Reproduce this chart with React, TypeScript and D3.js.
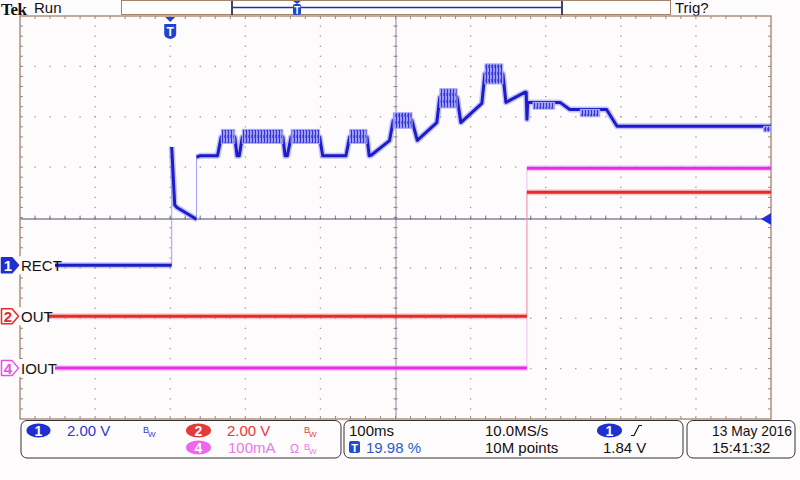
import React from 'react'
import * as d3 from 'd3'

// time in ms relative to trigger, 100ms/div, 10 divisions
const TIME_DOMAIN = [-200, 800]

// CH1 "RECT" (volts, 2.00 V/div) – main trace
const RECT_TRACE: [number, number][] = [
  [-200, 0], [2, 0], [2, 4.7], [6, 2.4], [9, 2.3], [34, 1.85],
  [35, 1.85], [35, 4.3], [40, 4.35], [63, 4.35], [68, 5.1], [86, 5.1],
  [89, 4.35], [92, 4.35], [96, 5.1], [150, 5.1], [153, 4.35], [156, 4.35],
  [161, 5.1], [199, 5.1], [203, 4.35], [234, 4.35], [239, 5.1], [262, 5.1],
  [265, 4.35], [268, 4.38], [292, 4.95], [297, 5.75], [322, 5.75], [329, 4.96],
  [355, 5.67], [359, 6.67], [382, 6.67], [387, 5.67], [415, 6.43], [419, 7.6],
  [443, 7.6], [447, 6.47], [472, 6.87], [474, 6.87], [475, 5.8], [476, 6.47],
  [519, 6.47], [532, 6.19], [581, 6.19], [595, 5.52], [800, 5.52],
]

// noisy bursts on CH1: [t0, t1, low V, high V]
const RECT_BURSTS: [number, number, number, number][] = [
  [68, 86, 4.84, 5.4], [96, 150, 4.84, 5.4], [161, 199, 4.84, 5.4],
  [239, 262, 4.84, 5.4], [297, 322, 5.44, 6.07], [359, 382, 6.25, 7.02],
  [419, 443, 7.2, 8.0], [483, 512, 6.2, 6.47], [546, 572, 5.9, 6.19],
  [790, 800, 5.3, 5.52],
]

// CH2 "OUT" (volts, 2.00 V/div)
const OUT_TRACE: [number, number][] = [[-200, 0], [475, 0], [475, 4.92], [800, 4.92]]

// CH4 "IOUT" (mA, 100 mA/div)
const IOUT_TRACE: [number, number][] = [[-200, 0], [475, 0], [475, 397], [800, 397]]

const TRIGGER_LEVEL = 1.84

const W = 800
const H = 480
const GX0 = 20
const GX1 = 771
const GY0 = 16
const GY1 = 419
const DIVY = (GY1 - GY0) / 8
const CY = (GY0 + GY1) / 2
const BG = '#fefbfd'
const BORDER = '#a3826c'
const FONT = '"Liberation Sans", Arial, sans-serif'

const BLUE = '#1c1ccc'
const RED = '#e62a2a'
const MAGENTA = '#e52de5'

const x = d3.scaleLinear().domain(TIME_DOMAIN).range([GX0, GX1])

function chScale(offsetDiv: number, perDiv: number) {
  const g = CY + offsetDiv * DIVY
  return d3.scaleLinear().domain([0, perDiv]).range([g, g - DIVY])
}

const y1 = chScale(0.95, 2)
const y2 = chScale(1.96, 2)
const y4 = chScale(2.99, 100)

function runs(pts: [number, number][]) {
  const out: [number, number][][] = []
  let cur: [number, number][] = [pts[0]]
  for (let i = 1; i < pts.length; i++) {
    if (pts[i][0] === pts[i - 1][0]) {
      out.push(cur)
      cur = [pts[i]]
    } else cur.push(pts[i])
  }
  out.push(cur)
  return out
}

function Trace({ pts, y, color, halo, w = 2.6 }: { pts: [number, number][]; y: d3.ScaleLinear<number, number>; color: string; halo: string; w?: number }) {
  const line = d3.line<[number, number]>().x((d) => x(d[0])).y((d) => y(d[1]))
  const rs = runs(pts).filter((r) => r.length > 1)
  return (
    <g>
      <path d={line(pts) ?? ''} fill="none" stroke={halo} strokeWidth={1} opacity={0.7} />
      {rs.map((r, i) => (
        <g key={i}>
          <path d={line(r) ?? ''} fill="none" stroke={halo} strokeWidth={w + 3} strokeOpacity={0.45} strokeLinejoin="round" />
          <path d={line(r) ?? ''} fill="none" stroke={color} strokeWidth={w} strokeLinejoin="round" />
        </g>
      ))}
    </g>
  )
}

function Grid() {
  const els: React.ReactNode[] = []
  const dx = (GX1 - GX0) / 10
  // dotted division lines
  for (let i = 1; i < 10; i++) {
    const gx = GX0 + i * dx
    for (let j = 1; j < 40; j++) {
      const gy = GY0 + (j * DIVY) / 5
      els.push(<rect key={`v${i}-${j}`} x={gx - 0.6} y={gy - 0.6} width={1.3} height={1.3} fill="#9a9a9a" />)
    }
  }
  for (let j = 1; j < 8; j++) {
    const gy = GY0 + j * DIVY
    for (let i = 1; i < 50; i++) {
      const gx = GX0 + (i * dx) / 5
      els.push(<rect key={`h${j}-${i}`} x={gx - 0.6} y={gy - 0.6} width={1.3} height={1.3} fill="#9a9a9a" />)
    }
  }
  // minor ticks on border and centre axes
  for (let i = 1; i < 50; i++) {
    const gx = GX0 + (i * dx) / 5
    els.push(<line key={`tt${i}`} x1={gx} x2={gx} y1={GY0} y2={GY0 + 3} stroke="#8c8c8c" />)
    els.push(<line key={`tb${i}`} x1={gx} x2={gx} y1={GY1 - 3} y2={GY1} stroke="#8c8c8c" />)
    els.push(<line key={`tc${i}`} x1={gx} x2={gx} y1={CY - 2} y2={CY + 2} stroke="#8c8c8c" />)
  }
  for (let j = 1; j < 40; j++) {
    const gy = GY0 + (j * DIVY) / 5
    els.push(<line key={`tl${j}`} x1={GX0} x2={GX0 + 3} y1={gy} y2={gy} stroke="#8c8c8c" />)
    els.push(<line key={`tr${j}`} x1={GX1 - 3} x2={GX1} y1={gy} y2={gy} stroke="#8c8c8c" />)
    els.push(<line key={`tm${j}`} x1={GX0 + 5 * dx - 2} x2={GX0 + 5 * dx + 2} y1={gy} y2={gy} stroke="#8c8c8c" />)
  }
  return <g>{els}</g>
}

function BW({ x0, y0, color }: { x0: number; y0: number; color: string }) {
  return (
    <g fill={color} fontFamily={FONT}>
      <text x={x0} y={y0} fontSize={9}>B</text>
      <text x={x0 + 5} y={y0 + 4} fontSize={8}>W</text>
    </g>
  )
}

function ChMarker({ cy, label, color, filled, name, cover }: { cy: number; label: string; color: string; filled: boolean; name: string; cover: number }) {
  return (
    <g>
      <rect x={0} y={cy - 9} width={cover} height={18} fill={BG} />
      <path
        d={`M1.5,${cy - 7.5} H12 L18.5,${cy} L12,${cy + 7.5} H1.5 Z`}
        fill={filled ? color : '#fff'}
        stroke={color}
        strokeWidth={1.5}
        strokeLinejoin="round"
      />
      <text x={8} y={cy + 5.5} textAnchor="middle" fontFamily={FONT} fontWeight="bold" fontSize={15} fill={filled ? '#fff' : color}>
        {label}
      </text>
      <text x={21} y={cy + 5.5} fontFamily={FONT} fontSize={15} fill="#111">
        {name}
      </text>
    </g>
  )
}

export default function App() {
  const area = (b: [number, number, number, number]) =>
    `M${x(b[0])},${y1(b[3])} H${x(b[1])} V${y1(b[2])} H${x(b[0])} Z`
  const trigY = y1(TRIGGER_LEVEL)
  const trigX = x(0)
  return (
    <svg width={W} height={H} style={{ position: 'fixed', left: 0, top: 0, background: BG }} fontFamily={FONT}>
      <defs>
        <pattern id="noise" width={3} height={7} patternUnits="userSpaceOnUse">
          <rect width={3} height={7} fill="#9c9cf4" />
          <rect width={1} height={7} fill="#3434d6" />
          <rect x={2} y={2} width={1} height={3} fill="#5a5ae2" />
        </pattern>
      </defs>
      <rect width={W} height={H} fill={BG} />

      {/* header */}
      <text x={1} y={15.2} fontFamily='"Liberation Serif", "DejaVu Serif", serif' fontWeight="bold" fontSize={17} fill="#111" letterSpacing={-0.4}>
        Tek
      </text>
      <text x={34} y={13} fontSize={15} fill="#111">Run</text>
      <rect x={121.5} y={0.5} width={549} height={14} fill="#fff" stroke={BORDER} />
      <line x1={232} x2={562} y1={7.5} y2={7.5} stroke="#1f2fa8" strokeWidth={1.5} />
      <line x1={232} x2={232} y1={1} y2={15} stroke="#444466" strokeWidth={2} />
      <line x1={562} x2={562} y1={1} y2={15} stroke="#444466" strokeWidth={2} />
      <path d="M293,1 H301 L297,4 Z" fill="#2244cc" />
      <rect x={293} y={4} width={8} height={11} rx={2} fill="#2244cc" />
      <text x={297} y={13.5} textAnchor="middle" fontSize={10} fontWeight="bold" fill="#fff">T</text>
      <text x={675} y={13} fontSize={15} fill="#111">Trig?</text>

      {/* graticule */}
      <Grid />
      <line x1={396} x2={396} y1={GY0} y2={GY1} stroke="#8a8aa0" strokeWidth={1} />
      <line x1={GX0} x2={GX1} y1={trigY} y2={trigY} stroke="#4a4a6a" strokeWidth={1.2} />
      <rect x={GX0} y={GY0} width={GX1 - GX0} height={GY1 - GY0} fill="none" stroke={BORDER} strokeWidth={1.3} />

      {/* traces */}
      <Trace pts={IOUT_TRACE} y={y4} color={MAGENTA} halo="#f29af2" w={3} />
      <Trace pts={OUT_TRACE} y={y2} color={RED} halo="#f39090" w={3} />
      <Trace pts={RECT_TRACE} y={y1} color={BLUE} halo="#7c7cf2" w={3} />
      {RECT_BURSTS.map((b, i) => (
        <path key={i} d={area(b)} fill="url(#noise)" stroke="#b0b0f6" strokeWidth={1} />
      ))}

      {/* trigger markers */}
      <path d={`M${trigX - 5},${GY0 + 1} H${trigX + 5} L${trigX},${GY0 + 6} Z`} fill="#2244cc" />
      <path d={`M${trigX - 6},${GY0 + 8} H${trigX + 6} V${GY0 + 18} Q${trigX + 6},${GY0 + 22} ${trigX},${GY0 + 23} Q${trigX - 6},${GY0 + 22} ${trigX - 6},${GY0 + 18} Z`} fill="#2244cc" />
      <text x={trigX} y={GY0 + 20} textAnchor="middle" fontSize={12} fontWeight="bold" fill="#fff">T</text>
      <path d={`M${GX1 - 10},${trigY} L${GX1},${trigY - 6} V${trigY + 6} Z`} fill="#1f2fd0" />

      {/* channel markers */}
      <ChMarker cy={y1(0)} label="1" color="#1f2fd0" filled name="RECT" cover={55} />
      <ChMarker cy={y2(0)} label="2" color={RED} filled={false} name="OUT" cover={48} />
      <ChMarker cy={y4(0)} label="4" color="#e64fe6" filled={false} name="IOUT" cover={55} />

      {/* status bar */}
      <rect x={21} y={420.5} width={320} height={37.5} rx={6} fill="none" stroke="#333" />
      <rect x={344} y={420.5} width={339} height={37.5} rx={6} fill="none" stroke="#333" />
      <rect x={687} y={420.5} width={108} height={37.5} rx={6} fill="none" stroke="#333" />

      <ellipse cx={38.5} cy={430.5} rx={12} ry={7} fill="#1f2fd0" />
      <text x={38.5} y={436} textAnchor="middle" fontSize={14} fontWeight="bold" fill="#fff">1</text>
      <text x={67} y={436} fontSize={15} fill="#2b3bc8">2.00 V</text>
      <BW x0={143} y0={433} color="#2b3bc8" />

      <ellipse cx={198.5} cy={430.5} rx={12.5} ry={7} fill="#e53a3a" />
      <text x={198.5} y={436} textAnchor="middle" fontSize={14} fontWeight="bold" fill="#fff">2</text>
      <text x={227} y={436} fontSize={15} fill="#e53a3a">2.00 V</text>
      <BW x0={304} y0={433} color="#e53a3a" />

      <ellipse cx={198.5} cy={447.5} rx={12.5} ry={7} fill="#ee66ee" />
      <text x={198.5} y={453} textAnchor="middle" fontSize={14} fontWeight="bold" fill="#fff">4</text>
      <text x={228} y={453} fontSize={15} fill="#e77ae7">100mA</text>
      <text x={290} y={453} fontSize={12} fill="#e77ae7">Ω</text>
      <BW x0={304} y0={450} color="#e77ae7" />

      <text x={349} y={436} fontSize={15} fill="#111">100ms</text>
      <rect x={349} y={441} width={11} height={12} rx={2} fill="#1f4fcf" />
      <text x={354.5} y={451.5} textAnchor="middle" fontSize={11} fontWeight="bold" fill="#fff">T</text>
      <text x={366} y={453} fontSize={15} fill="#2b5bc8">19.98 %</text>
      <text x={485} y={436} fontSize={15} fill="#111">10.0MS/s</text>
      <text x={485} y={453} fontSize={15} fill="#111">10M points</text>
      <ellipse cx={609.5} cy={430.5} rx={12.5} ry={7} fill="#1f2fd0" />
      <text x={609.5} y={436} textAnchor="middle" fontSize={14} fontWeight="bold" fill="#fff">1</text>
      <path d="M631,435.5 H634 L639,425.5 H642" fill="none" stroke="#111" strokeWidth={1.2} />
      <text x={603} y={453} fontSize={15} fill="#111">1.84 V</text>

      <text x={712} y={436} fontSize={15} fill="#111" textLength={80} lengthAdjust="spacingAndGlyphs">13 May 2016</text>
      <text x={712} y={453} fontSize={15} fill="#111">15:41:32</text>
    </svg>
  )
}
